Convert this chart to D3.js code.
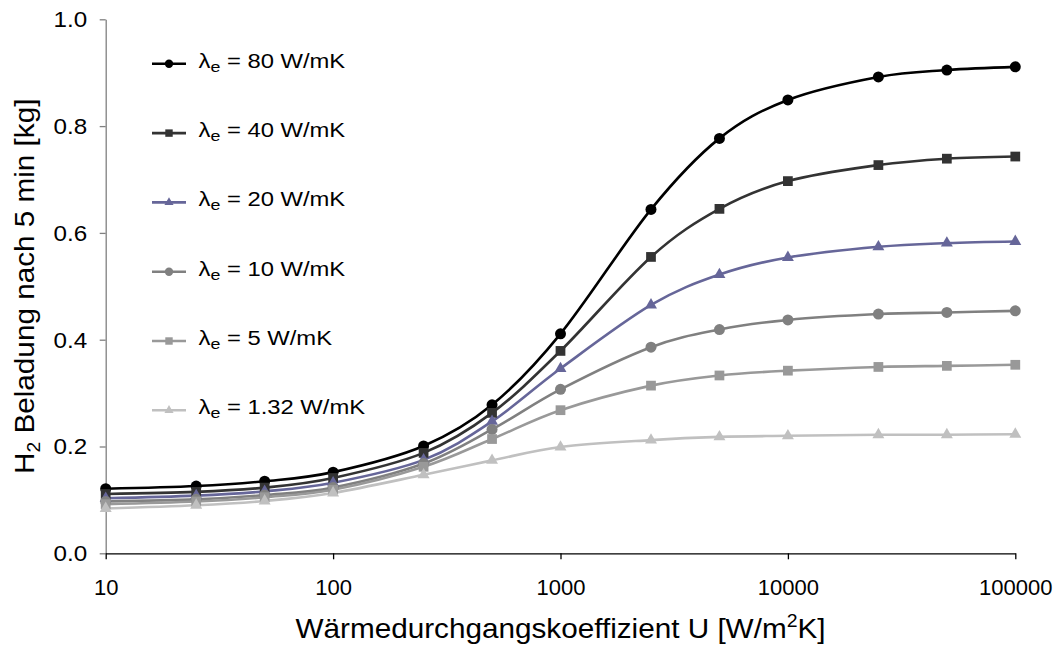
<!DOCTYPE html>
<html lang="de">
<head>
  <meta charset="UTF-8">
  <title>H2 Beladung</title>
  <script src="https://d3js.org/d3.v7.min.js"></script>
  <style>
    body { margin: 0; background: #fff; }
    svg text { font-family: "Liberation Sans", Arial, sans-serif; fill: #000; }
  </style>
</head>
<body>
<svg width="1056" height="646"></svg>
<script>
  // data
  const uValues = [10, 25, 50, 100, 250, 500, 1000, 2500, 5000, 10000, 25000, 50000, 100000];
  const lambda80  = [0.121, 0.126, 0.135, 0.152, 0.201, 0.278, 0.411, 0.644, 0.777, 0.849, 0.892, 0.905, 0.911];
  const lambda40  = [0.111, 0.115, 0.123, 0.141, 0.188, 0.263, 0.379, 0.555, 0.645, 0.697, 0.727, 0.739, 0.743];
  const lambda20  = [0.103, 0.108, 0.116, 0.132, 0.175, 0.247, 0.346, 0.465, 0.522, 0.554, 0.574, 0.581, 0.584];
  const lambda10  = [0.097, 0.101, 0.109, 0.123, 0.168, 0.232, 0.307, 0.386, 0.419, 0.437, 0.448, 0.451, 0.454];
  const lambda5   = [0.092, 0.097, 0.105, 0.119, 0.162, 0.214, 0.268, 0.314, 0.333, 0.342, 0.349, 0.351, 0.353];
  const lambda132 = [0.084, 0.090, 0.098, 0.113, 0.147, 0.174, 0.199, 0.212, 0.218, 0.220, 0.222, 0.222, 0.223];
  const seriesNames = ["80", "40", "20", "10", "5", "1.32"];
  const xTicks = [10, 100, 1000, 10000, 100000];
  const yTicks = [0, 0.2, 0.4, 0.6, 0.8, 1.0];

  const series = [
    { name: seriesNames[0], values: lambda80,  color: "#000000", symbol: d3.symbolCircle,   size: 95 },
    { name: seriesNames[1], values: lambda40,  color: "#333333", symbol: d3.symbolSquare,   size: 95 },
    { name: seriesNames[2], values: lambda20,  color: "#666699", symbol: d3.symbolTriangle, size: 62 },
    { name: seriesNames[3], values: lambda10,  color: "#808080", symbol: d3.symbolCircle,   size: 95 },
    { name: seriesNames[4], values: lambda5,   color: "#999999", symbol: d3.symbolSquare,   size: 95 },
    { name: seriesNames[5], values: lambda132, color: "#c0c0c0", symbol: d3.symbolTriangle, size: 62 }
  ];

  const svg = d3.select("svg");
  const plotLeft = 105.7, plotRight = 1015.3, plotTop = 19.3, plotBottom = 553.3;

  const x = d3.scaleLog().domain([10, 100000]).range([plotLeft, plotRight]);
  const y = d3.scaleLinear().domain([0, 1]).range([plotBottom, plotTop]);

  // y axis
  const yAxis = svg.append("g")
    .attr("transform", "translate(" + plotLeft + ",0)")
    .call(d3.axisLeft(y).tickValues(yTicks).tickFormat(d3.format(".1f")).tickSize(6).tickSizeOuter(0));
  yAxis.select(".domain").attr("stroke", "#808080").attr("stroke-width", 1.3);
  yAxis.selectAll(".tick line").attr("stroke", "#808080").attr("stroke-width", 1.3);
  yAxis.selectAll(".tick text")
    .attr("x", 0)
    .attr("dy", "0.34em")
    .attr("transform", "translate(-18.6,0) scale(1.1,1)")
    .attr("font-size", "22px")
    .attr("font-family", null)
    .attr("fill", "#000");

  // x axis
  const xAxis = svg.append("g")
    .attr("transform", "translate(0," + plotBottom + ")")
    .call(d3.axisBottom(x).tickValues(xTicks).tickFormat(d3.format("d")).tickSize(6).tickSizeOuter(0));
  xAxis.select(".domain").attr("stroke", "#000").attr("stroke-width", 1.3);
  xAxis.selectAll(".tick line").attr("stroke", "#000").attr("stroke-width", 1.3);
  xAxis.selectAll(".tick text")
    .attr("y", 42)
    .attr("dy", 0)
    .attr("font-size", "22px")
    .attr("font-family", null)
    .attr("fill", "#000");

  // lines
  const line = d3.line()
    .x(function(d) { return x(d[0]); })
    .y(function(d) { return y(d[1]); })
    .curve(d3.curveCatmullRom.alpha(0));

  series.forEach(function(s) {
    const pts = uValues.map(function(u, i) { return [u, s.values[i]]; });
    svg.append("path")
      .attr("d", line(pts))
      .attr("fill", "none")
      .attr("stroke", s.color)
      .attr("stroke-width", 2.6);
  });

  // markers drawn after all lines, in series order
  series.forEach(function(s) {
    const pts = uValues.map(function(u, i) { return [u, s.values[i]]; });
    svg.append("g").selectAll("path")
      .data(pts)
      .enter()
      .append("path")
        .attr("d", d3.symbol().type(s.symbol).size(s.size))
        .attr("transform", function(d) { return "translate(" + x(d[0]) + "," + y(d[1]) + ")"; })
        .attr("fill", s.color);
  });

  // legend
  const legend = svg.append("g");
  series.forEach(function(s, i) {
    const ly = 63.8 + i * 69.3;
    const row = legend.append("g").attr("transform", "translate(0," + ly + ")");
    row.append("line")
      .attr("x1", 152).attr("x2", 186)
      .attr("stroke", s.color).attr("stroke-width", 2.6);
    row.append("path")
      .attr("d", d3.symbol().type(s.symbol).size(s.size * 0.58))
      .attr("transform", "translate(169,0)")
      .attr("fill", s.color);
    const t = row.append("text")
      .attr("transform", "translate(198.5,3.9) scale(1.19,1)")
      .attr("font-size", "20px");
    t.append("tspan").text("λ");
    t.append("tspan").attr("font-size", "15px").attr("dy", 4).text("e");
    t.append("tspan").attr("dy", -4).text(" = " + s.name + " W/mK");
  });

  // axis titles
  const xt = svg.append("text")
    .attr("transform", "translate(" + (plotLeft + plotRight) / 2 + ",638) scale(1.08,1)")
    .attr("text-anchor", "middle")
    .attr("font-size", "27.5px");
  xt.append("tspan").text("Wärmedurchgangskoeffizient U [W/m");
  xt.append("tspan").attr("font-size", "18px").attr("dy", -11).text("2");
  xt.append("tspan").attr("dy", 11).text("K]");

  const yt = svg.append("text")
    .attr("transform", "translate(33.5," + (plotTop + plotBottom) / 2 + ") rotate(-90) scale(1.08,1)")
    .attr("text-anchor", "middle")
    .attr("font-size", "27.5px");
  yt.append("tspan").text("H");
  yt.append("tspan").attr("font-size", "18px").attr("dy", 6).text("2");
  yt.append("tspan").attr("dy", -6).text(" Beladung nach 5 min [kg]");
</script>
</body>
</html>
